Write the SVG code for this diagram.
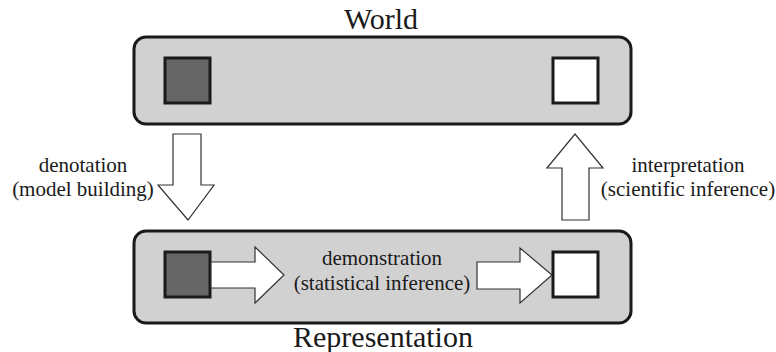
<svg xmlns="http://www.w3.org/2000/svg" width="776" height="352" viewBox="0 0 776 352">
<style>
.box{fill:#d1d1d1;stroke:#1a1a1a;stroke-width:3}
.dark{fill:#666666;stroke:#1a1a1a;stroke-width:3}
.light{fill:#ffffff;stroke:#1a1a1a;stroke-width:3}
.arrow{fill:#ffffff;stroke:#333333;stroke-width:1.2;stroke-linejoin:miter}
.title{font-family:"Liberation Serif","DejaVu Serif",serif;font-size:30px;fill:#1a1a1a;text-anchor:middle}
.lbl{font-family:"Liberation Serif","DejaVu Serif",serif;font-size:21px;fill:#1a1a1a;text-anchor:middle}
</style>
<rect width="776" height="352" fill="#ffffff"/>
<g id="world">
<rect class="box" x="134" y="37" width="497" height="87" rx="12"/>
<text class="title" x="381" y="29">World</text>
</g>
<g id="world-dark"><rect class="dark" x="165" y="58" width="45" height="45"/></g>
<g id="world-light"><rect class="light" x="553" y="58" width="45" height="45"/></g>
<g id="representation">
<rect class="box" x="134" y="231" width="497" height="92" rx="12"/>
<text class="title" x="383" y="347">Representation</text>
</g>
<g id="rep-dark"><rect class="dark" x="165" y="252" width="45" height="45"/></g>
<g id="rep-light"><rect class="light" x="553" y="252" width="45" height="45"/></g>
<g id="connectors">
<polygon class="arrow" points="173,134 201,134 201,185 214,185 188,220 158,185 173,185"/>
<polygon class="arrow" points="562,220 589,220 589,168 603,168 575,134 547,168 562,168"/>
<polygon class="arrow" points="211,262 255,262 255,247 284,275 255,303 255,288 211,288"/>
<polygon class="arrow" points="477,262 520,262 520,248 552,275 520,303 520,289 477,289"/>
</g>
<g id="labels">
<text class="lbl" x="83" y="172">denotation</text>
<text class="lbl" x="83" y="196">(model building)</text>
<text class="lbl" x="688" y="172">interpretation</text>
<text class="lbl" x="688" y="196">(scientific inference)</text>
<text class="lbl" x="382" y="265">demonstration</text>
<text class="lbl" x="382" y="290">(statistical inference)</text>
</g>
</svg>
